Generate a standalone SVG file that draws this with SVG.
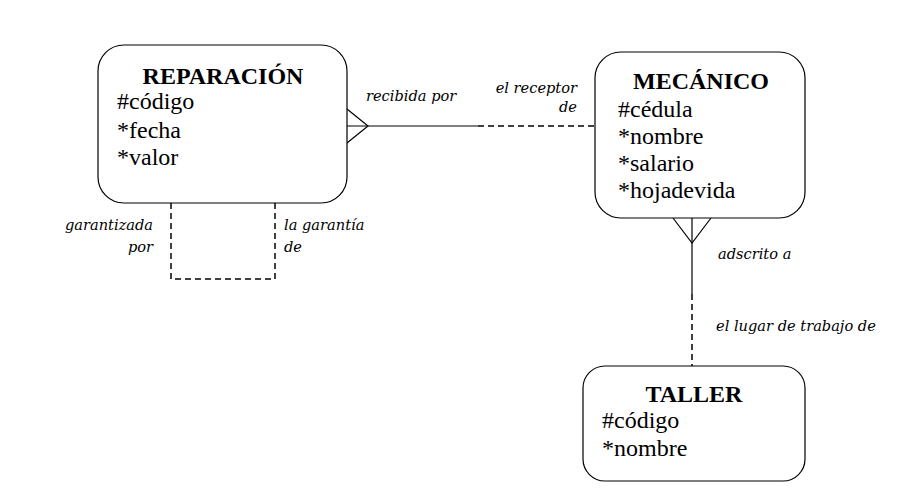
<svg xmlns="http://www.w3.org/2000/svg" width="915" height="502" viewBox="0 0 915 502">
<style>
.box{fill:#fff;stroke:#000;stroke-width:1.2}
.t{font-family:"Liberation Serif","Times New Roman",serif;font-weight:bold;font-size:24px;text-anchor:middle}
.a{font-family:"Liberation Serif","Times New Roman",serif;font-size:24px}
.l{font-family:"DejaVu Serif","Liberation Serif",serif;font-style:italic;font-size:14.6px}
.s{fill:none;stroke:#000;stroke-width:1.2}
.d{fill:none;stroke:#000;stroke-width:1.5;stroke-dasharray:6 4}
</style>
<rect width="915" height="502" fill="#fff"/>
<g id="connectors">
<line class="s" x1="347" y1="126" x2="478" y2="126"/>
<line class="d" x1="478" y1="126" x2="595" y2="126"/>
<polyline class="s" points="347,109 368,126 347,143"/>
<polyline class="d" points="171,203 171,279 275,279 275,203"/>
<line class="s" x1="692" y1="218" x2="692" y2="294"/>
<line class="d" x1="692" y1="294" x2="692" y2="366"/>
<polyline class="s" points="673,218 692,243 711,218"/>
<text class="l" x="366" y="101">recibida por</text>
<text class="l" x="577" y="93" text-anchor="end">el receptor</text>
<text class="l" x="577" y="112" text-anchor="end">de</text>
<text class="l" x="153" y="230" text-anchor="end">garantizada</text>
<text class="l" x="153" y="252" text-anchor="end">por</text>
<text class="l" x="284" y="230">la garantía</text>
<text class="l" x="284" y="252">de</text>
<text class="l" x="718" y="259">adscrito a</text>
<text class="l" x="716" y="331">el lugar de trabajo de</text>
</g>
<g id="reparacion">
<rect class="box" x="98" y="45" width="249" height="158" rx="26"/>
<text class="t" x="223" y="84">REPARACIÓN</text>
<text class="a" x="117" y="109">#código</text>
<text class="a" x="117" y="138">*fecha</text>
<text class="a" x="117" y="165">*valor</text>
</g>
<g id="mecanico">
<rect class="box" x="595" y="52" width="210" height="166" rx="26"/>
<text class="t" x="701" y="89">MECÁNICO</text>
<text class="a" x="618" y="117">#cédula</text>
<text class="a" x="618" y="144">*nombre</text>
<text class="a" x="618" y="171">*salario</text>
<text class="a" x="618" y="198">*hojadevida</text>
</g>
<g id="taller">
<rect class="box" x="583" y="366" width="222" height="115" rx="22"/>
<text class="t" x="694" y="402">TALLER</text>
<text class="a" x="602" y="428">#código</text>
<text class="a" x="602" y="456">*nombre</text>
</g>
</svg>
